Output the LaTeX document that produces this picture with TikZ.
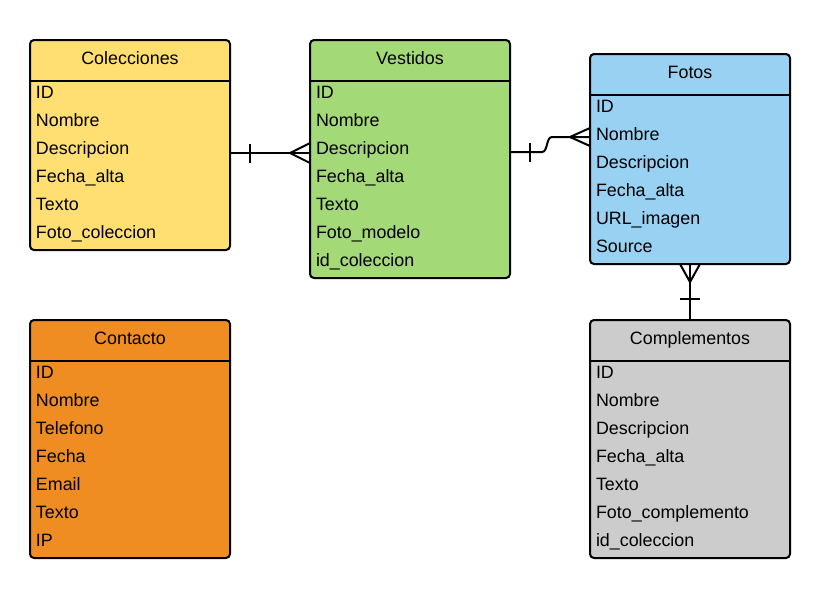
\documentclass[tikz,border=0pt]{standalone}
\usepackage{fontspec}
\setmainfont{Liberation Sans}
\usetikzlibrary{positioning}
\definecolor{colyellow}{HTML}{FFDF71}
\definecolor{colgreen}{HTML}{A3D977}
\definecolor{colblue}{HTML}{99D1F3}
\definecolor{colorange}{HTML}{EF8D22}
\definecolor{colgray}{HTML}{CCCCCC}
\tikzset{
	tabframe/.style={draw=black, line width=1.5pt, rounded corners=3pt,
		minimum width=150pt, inner sep=0pt, outer sep=0pt},
	tabhead/.style={minimum width=150pt, minimum height=30pt, inner sep=0pt,
		text depth=3pt, font=\fontsize{13.4}{16}\selectfont},
	tabrows/.style={text width=141pt, align=left, inner xsep=4.5pt, inner ysep=4.4pt,
		font=\fontsize{13.4}{21}\selectfont},
	sep/.style={line width=1.5pt},
	conn/.style={line width=1.5pt},
}

\begin{document}
\begin{tikzpicture}[x=0.75pt, y=-0.75pt]
	\useasboundingbox (0,0) rectangle (826,601);
	% tables
	\node[tabframe, fill=colyellow, minimum height=157.5pt] (colbox) at (130,145) {};
	\node[tabframe, fill=colgreen, minimum height=178.5pt, right=60pt of colbox.north east, anchor=north west] (vesbox) {};
	\node[tabframe, fill=colblue, minimum height=157.5pt] (fotbox) at (690,159) {};
	\node[tabframe, fill=colorange, minimum height=178.5pt, below=52.5pt of colbox] (conbox) {};
	\node[tabframe, fill=colgray, minimum height=178.5pt, below=42pt of fotbox] (combox) {};

	\node[tabhead, anchor=north] (colh) at (colbox.north) {Colecciones};
	\node[tabhead, anchor=north] (vesh) at (vesbox.north) {Vestidos};
	\node[tabhead, anchor=north] (foth) at (fotbox.north) {Fotos};
	\node[tabhead, anchor=north] (conh) at (conbox.north) {Contacto};
	\node[tabhead, anchor=north] (comh) at (combox.north) {Complementos};

	\foreach \t in {colh, vesh, foth, conh, comh}
		\draw[sep] (\t.south west) -- (\t.south east);

	\node[tabrows, anchor=north west] (colr) at (colh.south west)
	{ID\\Nombre\\Descripcion\\Fecha\_alta\\Texto\\Foto\_coleccion};
	\node[tabrows, anchor=north west] (vesr) at (vesh.south west)
	{ID\\Nombre\\Descripcion\\Fecha\_alta\\Texto\\Foto\_modelo\\id\_coleccion};
	\node[tabrows, anchor=north west] (fotr) at (foth.south west)
	{ID\\Nombre\\Descripcion\\Fecha\_alta\\URL\_imagen\\Source};
	\node[tabrows, anchor=north west] (conr) at (conh.south west)
	{ID\\Nombre\\Telefono\\Fecha\\Email\\Texto\\IP};
	\node[tabrows, anchor=north west] (comr) at (comh.south west)
	{ID\\Nombre\\Descripcion\\Fecha\_alta\\Texto\\Foto\_complemento\\id\_coleccion};

	% relations
	\draw[conn] (colbox.east |- 0,153) -- (vesbox.west |- 0,153);
	\draw[conn] (colbox.east |- 0,153) ++(20,-9) -- ++(0,19);
	\draw[conn] (vesbox.west |- 0,143) -- ++(-20,10) -- ++(20,10);

	\draw[conn] (vesbox.east |- 0,152) -- ++(32,0)
		.. controls ++(6,0) and ++(-6,0) .. ++(10,-15) -- (fotbox.west |- 0,137);
	\draw[conn] (vesbox.east |- 0,152) ++(20,-9) -- ++(0,19);
	\draw[conn] (fotbox.west |- 0,128) -- ++(-20,9) -- ++(20,9);

	\draw[conn] (fotbox.south) -- (combox.north);
	\draw[conn] (fotbox.south) ++(-10,0) -- ++(10,18) -- ++(10,-18);
	\draw[conn] (fotbox.south) ++(-10,35) -- ++(20,0);
\end{tikzpicture}
\end{document}
